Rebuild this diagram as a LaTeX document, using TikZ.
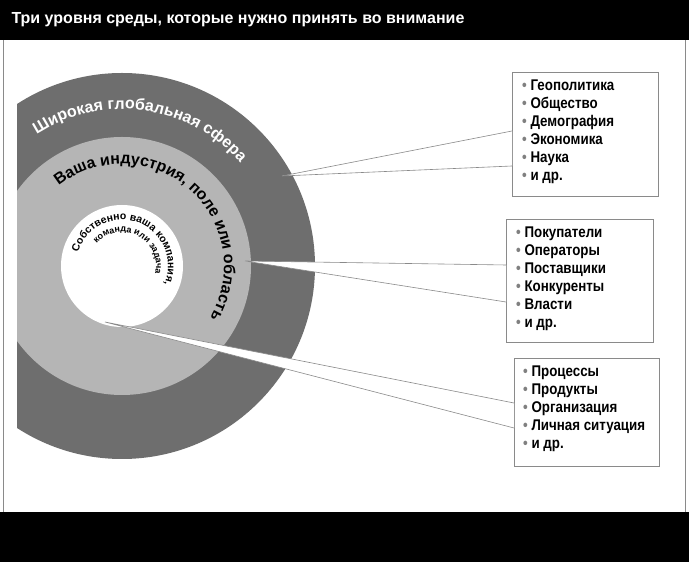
\documentclass[tikz,border=0pt]{standalone}
\usepackage{fontspec}
\setmainfont{Liberation Sans}
\newfontfamily\narrowfont[FakeStretch=0.86]{Liberation Sans}
\usetikzlibrary{decorations.text}
\definecolor{darkring}{HTML}{6E6E6E}
\definecolor{lightring}{HTML}{B5B5B5}
\definecolor{edgegray}{HTML}{8A8A8A}
\tikzset{
  listbox/.style={draw=edgegray, line width=0.8pt, fill=white},
  listtext/.style={anchor=north west, align=left, font=\narrowfont\bfseries\fontsize{15.5}{18}\selectfont, inner sep=0pt},
  wedge/.style={draw=edgegray, line width=0.6pt, fill=white},
}
\newcommand{\bl}{{\color{gray}\textbullet}\ }
\begin{document}
\begin{tikzpicture}[x=1pt,y=1pt]
\useasboundingbox (0,0) rectangle (689,562);
\fill[white] (0,0) rectangle (689,562);
% bars
\fill[black] (0,522) rectangle (689,562);
\fill[black] (0,0) rectangle (689,50);
\draw[edgegray, line width=0.8pt] (3,50) -- (3,522) (685,50) -- (685,522);
\node[anchor=west, text=white, font=\bfseries\fontsize{16}{18}\selectfont] (title) at (8,542) {Три уровня среды, которые нужно принять во внимание};
% rings
\coordinate (c) at (122,296);
\begin{scope}
\clip (17,50) rectangle (685,522);
\fill[darkring] (c) circle[radius=193];
\fill[lightring] (c) circle[radius=129];
\fill[white] (c) circle[radius=61];
\end{scope}
% curved texts
\path[decorate, decoration={text along path, text align=center,
  text={|\bfseries\fontsize{16}{16}\selectfont\color{white}|Широкая глобальная сфера}}]
  (c) ++(130:157) arc[start angle=130, end angle=34, radius=157];
\path[decorate, decoration={text along path, text align=center,
  text={|\bfseries\fontsize{16}{16}\selectfont|Ваша индустрия{,} поле или область}}]
  (c) ++(132:102) arc[start angle=132, end angle=-34, radius=102];
\path[decorate, decoration={text along path, text align=center,
  text={|\bfseries\fontsize{10.5}{10.5}\selectfont|Собственно ваша компания{,}}}]
  (c) ++(170:46) arc[start angle=170, end angle=-30, radius=46];
\path[decorate, decoration={text along path, text align=center,
  text={|\bfseries\fontsize{9}{9}\selectfont|команда или задача}}]
  (c) ++(140:34) arc[start angle=140, end angle=-15, radius=34];
% boxes
\node[listbox, minimum width=146, minimum height=124, anchor=south west] (b1) at (512,365) {};
\node[listbox, minimum width=147, minimum height=123, anchor=south west] (b2) at (506,219) {};
\node[listbox, minimum width=145, minimum height=108, anchor=south west] (b3) at (514,95) {};
% wedges
\coordinate (t1) at (282,386);
\coordinate (t2) at (245,301);
\coordinate (t3) at (105,240);
\path (b1.south west) ++(0,31) coordinate (a1) ++(0,35) coordinate (a1b);
\path (b2.south west) ++(0,41) coordinate (a2) ++(0,37) coordinate (a2b);
\path (b3.south west) ++(0,39) coordinate (a3) ++(0,25) coordinate (a3b);
\draw[wedge] (a1b) -- (t1) -- (a1);
\draw[wedge] (a2b) -- (t2) -- (a2);
\draw[wedge] (a3b) -- (t3) -- (a3);
% texts
\node[listtext] (l1) at ([shift={(10,-7)}]b1.north west) {\bl Геополитика\\ \bl Общество\\ \bl Демография\\ \bl Экономика\\ \bl Наука\\ \bl и др.};
\node[listtext] (l2) at ([shift={(10,-7)}]b2.north west) {\bl Покупатели\\ \bl Операторы\\ \bl Поставщики\\ \bl Конкуренты\\ \bl Власти\\ \bl и др.};
\node[listtext] (l3) at ([shift={(9,-7)}]b3.north west) {\bl Процессы\\ \bl Продукты\\ \bl Организация\\ \bl Личная ситуация\\ \bl и др.};
\end{tikzpicture}
\end{document}
